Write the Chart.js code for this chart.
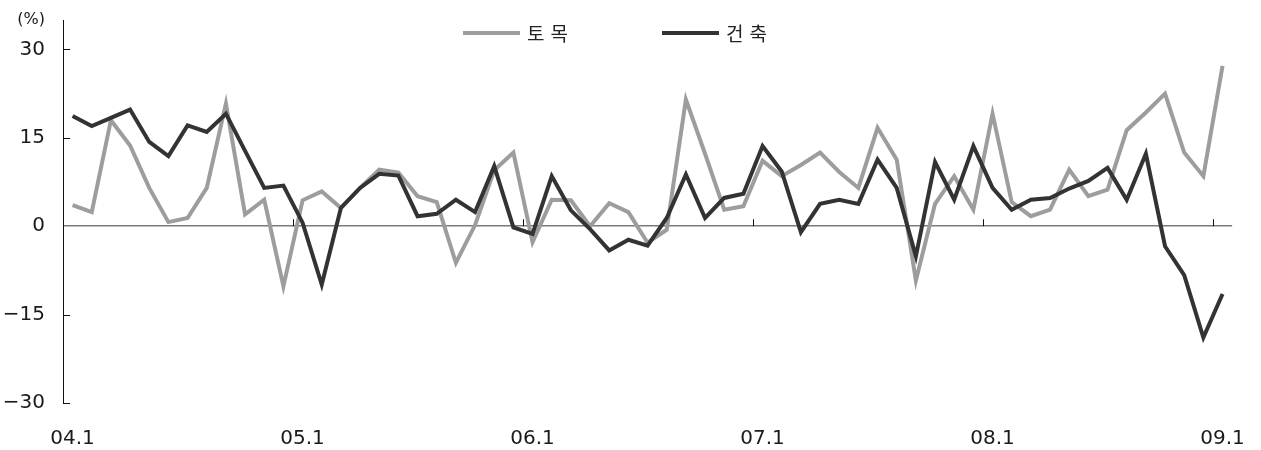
<!DOCTYPE html>
<html>
<head>
<meta charset="utf-8">
<script src="https://cdn.jsdelivr.net/npm/chart.js@4"></script>
<style>
  html, body { margin: 0; padding: 0; background: #fff; }
  #wrap { width: 1261px; height: 450px; position: relative; }
</style>
</head>
<body>
<div id="wrap"><canvas id="myChart"></canvas></div>
<script>
// Mois 04.1 -> 09.1
const months = [];
for (let yr = 4; yr <= 9; yr++) {
  for (let m = 1; m <= 12; m++) {
    if (months.length < 61) months.push("0" + yr + "." + m);
  }
}

// 토목 (gris) / 건축 (noir), en %
const civil = [
  3.6, 2.4, 18.0, 13.7, 6.5, 0.7, 1.4, 6.5, 20.8, 2.0, 4.5, -10.2,
  4.4, 5.9, 3.1, 6.5, 9.6, 9.1, 5.1, 4.1, -6.2, 0.2, 9.5, 12.5,
  -2.7, 4.5, 4.4, 0.0, 3.9, 2.4, -2.8, -0.6, 21.5, 12.3, 2.8, 3.4,
  11.1, 8.5, 10.4, 12.5, 9.2, 6.5, 16.7, 11.3, -9.2, 3.8, 8.5, 2.8,
  19.1, 4.1, 1.7, 2.8, 9.6, 5.1, 6.2, 16.3, 19.3, 22.5, 12.5, 8.5,
  27.2,
];
const building = [
  18.7, 17.0, 18.4, 19.8, 14.3, 11.9, 17.1, 16.0, 19.1, 12.8, 6.5, 6.9,
  0.6, -9.9, 3.1, 6.5, 8.9, 8.6, 1.7, 2.1, 4.5, 2.4, 10.2, -0.2,
  -1.3, 8.5, 2.7, -0.5, -4.1, -2.3, -3.3, 1.4, 8.8, 1.4, 4.8, 5.5,
  13.6, 9.3, -1.0, 3.8, 4.5, 3.8, 11.3, 6.5, -5.1, 10.9, 4.5, 13.6,
  6.5, 2.8, 4.5, 4.8, 6.4, 7.7, 9.9, 4.5, 12.3, -3.4, -8.3, -18.9,
  -11.5,
];

const yTicks = [-30, -15, 0, 15, 30];
const unitTick = 35; // sert a poser "(%)" en haut de l'axe

// petits traits de graduation vers l'interieur
const axisMarks = {
  id: "axisMarks",
  beforeDatasetsDraw(chart) {
    const { ctx, chartArea, scales } = chart;
    const x = scales.x, y = scales.y;
    const zero = y.getPixelForValue(0);
    ctx.save();
    ctx.strokeStyle = "#111";
    ctx.lineWidth = 1;
    ctx.beginPath();
    yTicks.forEach((v) => {
      if (v === 0) return;
      const py = Math.round(y.getPixelForValue(v)) + 0.5;
      ctx.moveTo(chartArea.left, py);
      ctx.lineTo(chartArea.left + 7, py);
    });
    months.forEach((m, i) => {
      if (i === 0 || i % 12) return;
      const px = Math.round((x.getPixelForValue(i - 1) + x.getPixelForValue(i)) / 2) + 0.5;
      ctx.moveTo(px, zero);
      ctx.lineTo(px, zero - 7);
    });
    ctx.stroke();
    ctx.restore();
  },
};

// legende posee dans la zone du graphique
const seriesLegend = {
  id: "seriesLegend",
  afterDraw(chart) {
    const { ctx } = chart;
    const starts = [463, 662];
    const yPos = 33;
    ctx.save();
    ctx.font = '19px "Noto Sans CJK KR"';
    ctx.textBaseline = "middle";
    ctx.fillStyle = "#222";
    if ("letterSpacing" in ctx) ctx.letterSpacing = "6px";
    chart.data.datasets.forEach((ds, i) => {
      ctx.strokeStyle = ds.borderColor;
      ctx.lineWidth = 4;
      ctx.beginPath();
      ctx.moveTo(starts[i], yPos);
      ctx.lineTo(starts[i] + 57, yPos);
      ctx.stroke();
      ctx.fillText(ds.label, starts[i] + 64, yPos + 1);
    });
    ctx.restore();
  },
};

const ctx = document.getElementById("myChart").getContext("2d");
const myChart = new Chart(ctx, {
  type: "line",
  data: {
    labels: months,
    datasets: [
      {
        label: "토목",
        data: civil,
        borderColor: "#9d9d9d",
        borderWidth: 4,
        pointRadius: 0,
        tension: 0,
        borderJoinStyle: "miter",
        order: 2,
      },
      {
        label: "건축",
        data: building,
        borderColor: "#333333",
        borderWidth: 4,
        pointRadius: 0,
        tension: 0,
        borderJoinStyle: "miter",
        order: 1,
      },
    ],
  },
  options: {
    responsive: true,
    maintainAspectRatio: false,
    animation: false,
    layout: {
      padding: { top: 20, right: 24, bottom: 0, left: 0 },
    },
    scales: {
      x: {
        offset: true,
        grid: { display: false },
        border: { display: false },
        afterFit: (scale) => { scale.height = 47; },
        ticks: {
          autoSkip: false,
          maxRotation: 0,
          minRotation: 0,
          padding: 16,
          color: "#1a1a1a",
          font: { family: "DejaVu Sans", size: 20 },
          callback: function (value, index) {
            return index % 12 === 0 ? months[index] : "";
          },
        },
      },
      y: {
        min: -30,
        max: unitTick,
        afterFit: (scale) => {
          scale.width = 63;
          scale.paddingTop = 0;
          scale.paddingBottom = 0;
        },
        afterBuildTicks: (scale) => {
          scale.ticks = yTicks.concat([unitTick]).map((v) => ({ value: v }));
        },
        border: { display: true, color: "#111", width: 1 },
        grid: {
          drawTicks: false,
          lineWidth: 1.5,
          color: (c) => (c.tick && c.tick.value === 0 ? "#7a7a7a" : "rgba(0,0,0,0)"),
        },
        ticks: {
          padding: 18,
          color: "#1a1a1a",
          font: (c) =>
            c.tick && c.tick.value === unitTick
              ? { family: "DejaVu Sans", size: 16 }
              : { family: "DejaVu Sans", size: 20 },
          callback: function (value) {
            if (value === unitTick) return "(%)";
            return String(value).replace("-", "\u2212");
          },
        },
      },
    },
    plugins: {
      legend: { display: false },
      tooltip: { enabled: false },
    },
  },
  plugins: [axisMarks, seriesLegend],
});
</script>
</body>
</html>
